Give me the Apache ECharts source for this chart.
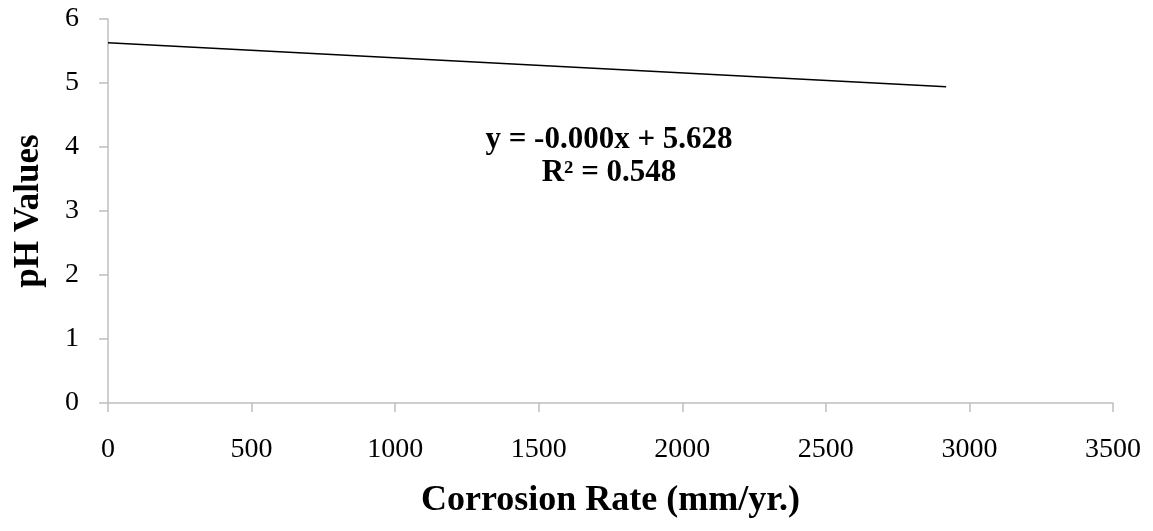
<!DOCTYPE html>
<html>
<head>
<meta charset="utf-8">
<script src="https://cdn.jsdelivr.net/npm/echarts@6/dist/echarts.min.js"></script>
<style>
  html, body { margin: 0; padding: 0; background: #fff; }
  #chart { width: 1153px; height: 531px; }
</style>
</head>
<body>
<div id="chart"></div>
<script>
// Trend line end points (corrosion rate, pH)
const corrosionRate = [0, 2919];
const phValues = [5.628, 4.94];
const xTicks = [0, 500, 1000, 1500, 2000, 2500, 3000, 3500];
const yTicks = [0, 1, 2, 3, 4, 5, 6];
const equationLines = ['y = -0.000x + 5.628', 'R\u00b2 = 0.548'];

const serif = '"Liberation Serif", "Times New Roman", serif';
const axisGrey = '#bfbfbf';

const chart = echarts.init(document.getElementById('chart'));

chart.setOption({
    backgroundColor: '#ffffff',
    animation: false,
    grid: { left: 108, right: 40, top: 19, bottom: 128, outerBoundsMode: 'none' },
    xAxis: {
        type: 'value',
        min: xTicks[0],
        max: xTicks[xTicks.length - 1],
        interval: 500,
        name: 'Corrosion Rate (mm/yr.)',
        nameLocation: 'middle',
        nameGap: 80,
        nameTextStyle: { fontFamily: serif, fontSize: 36, fontWeight: 'bold', color: '#000' },
        axisLine: { show: true, lineStyle: { color: axisGrey, width: 1.5 } },
        axisTick: { show: true, length: 9, lineStyle: { color: axisGrey, width: 1.5 } },
        axisLabel: {
            fontFamily: serif, fontSize: 28, color: '#000', margin: 33,
            formatter: v => String(v)
        },
        splitLine: { show: false }
    },
    yAxis: {
        type: 'value',
        min: yTicks[0],
        max: yTicks[yTicks.length - 1],
        interval: 1,
        name: 'pH Values',
        nameLocation: 'middle',
        nameGap: 62,
        nameRotate: 90,
        nameTextStyle: { fontFamily: serif, fontSize: 35, fontWeight: 'bold', color: '#000' },
        axisLine: { show: true, lineStyle: { color: axisGrey, width: 1.5 } },
        axisTick: { show: true, length: 9, lineStyle: { color: axisGrey, width: 1.5 } },
        axisLabel: { fontFamily: serif, fontSize: 28, color: '#000', margin: 29 },
        splitLine: { show: false }
    },
    graphic: equationLines.map((line, i) => ({
        type: 'text',
        style: {
            text: line,
            x: 609,
            y: 140 + i * 33,
            align: 'center',
            verticalAlign: 'middle',
            fontFamily: serif,
            fontSize: 31,
            fontWeight: 'bold',
            fill: '#000'
        }
    })),
    series: [
        {
            type: 'line',
            data: corrosionRate.map((x, i) => [x, phValues[i]]),
            showSymbol: false,
            lineStyle: { color: '#000', width: 1.5 }
        }
    ]
});
</script>
</body>
</html>
